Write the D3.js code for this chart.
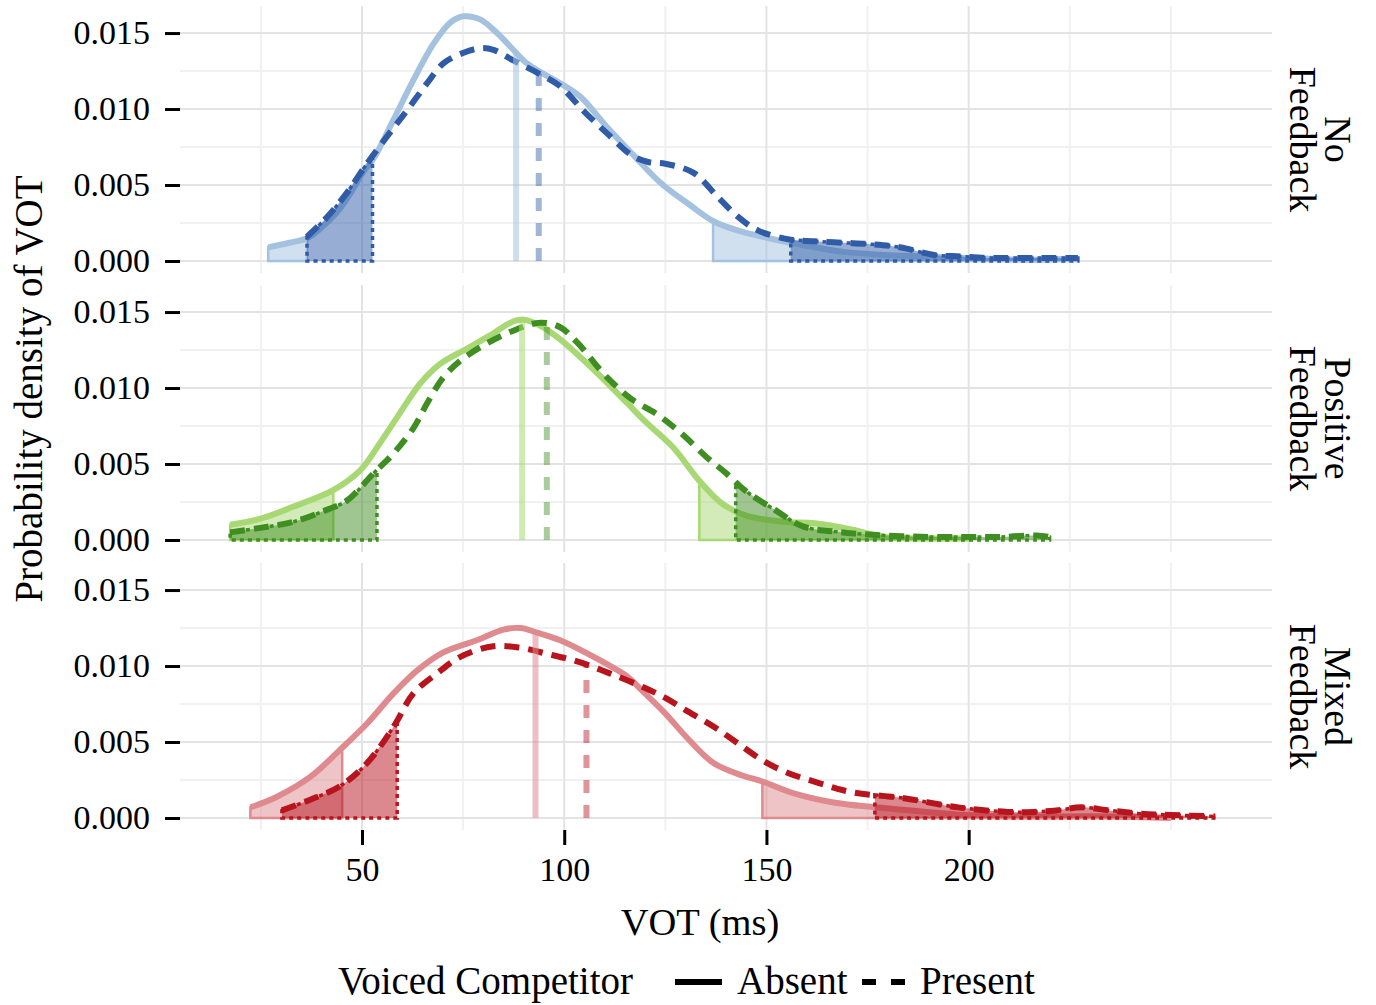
<!DOCTYPE html>
<html>
<head>
<meta charset="utf-8">
<script src="https://cdn.jsdelivr.net/npm/d3@7"></script>
<style>
  body { margin: 0; background: #fff; }
  text { font-family: "Liberation Serif", "Times New Roman", serif; fill: #000; }
</style>
</head>
<body>
<div id="container"></div>
<script>
// panels (facets)
const panels = ["No Feedback", "Positive Feedback", "Mixed Feedback"];
const stripLines = [["No", "Feedback"], ["Positive", "Feedback"], ["Mixed", "Feedback"]];
const absentColors = ["#a4c2e0", "#a8d873", "#df8a8f"];
const presentColors = ["#2f5ba7", "#3f8e22", "#b8141d"];

// density curves (VOT in ms, density)
const noAbsentVot = [26.8, 32, 36.4, 40, 43.8, 47, 50.4, 53, 57.8, 62.7, 67.7, 71.9, 75.1, 79.2, 83.4, 87.4, 90.8, 95, 99, 104, 110.6, 117, 124, 131, 137, 143, 149, 156, 162, 169, 179, 189.5, 200, 210, 220, 227];
const noAbsentDens = [0.0009, 0.0012, 0.0015, 0.0022, 0.0032, 0.0044, 0.0059, 0.0068, 0.0093, 0.0119, 0.0143, 0.0157, 0.0161, 0.0159, 0.0150, 0.0139, 0.0130, 0.0123, 0.0117, 0.0108, 0.0088, 0.0070, 0.0051, 0.0037, 0.0026, 0.0020, 0.0016, 0.0012, 0.0009, 0.0006, 0.0004, 0.0003, 0.0002, 0.0001, 0.0001, 0.0002];
const noPresentVot = [36.4, 41.4, 46.3, 51.2, 56.2, 61.1, 66.1, 70.1, 75.1, 79.2, 82.5, 87.4, 93.3, 99, 104.7, 110.6, 117, 121, 125, 132, 138, 143, 148, 156, 162, 169, 176, 183, 191.5, 198, 205, 212, 220, 227];
const noPresentDens = [0.0016, 0.0029, 0.0045, 0.0064, 0.0082, 0.0099, 0.0117, 0.0130, 0.0137, 0.0140, 0.0139, 0.0132, 0.0124, 0.0115, 0.0099, 0.0084, 0.0069, 0.0065, 0.0064, 0.0058, 0.0042, 0.0029, 0.0020, 0.0014, 0.0013, 0.0012, 0.0011, 0.0009, 0.0004, 0.0003, 0.0002, 0.0002, 0.0002, 0.0002];

const posAbsentVot = [17.4, 24.9, 33.1, 43, 49.6, 54.5, 59.5, 64.4, 69.4, 76, 82.5, 86.7, 90, 94.1, 99, 107.3, 115.6, 120, 126.9, 133.4, 139, 145, 154, 162, 171, 179, 190, 200];
const posAbsentDens = [0.0010, 0.0014, 0.0022, 0.0033, 0.0046, 0.0064, 0.0084, 0.0103, 0.0116, 0.0126, 0.0136, 0.0143, 0.0145, 0.0141, 0.0132, 0.0112, 0.0090, 0.0078, 0.0061, 0.0039, 0.0024, 0.0016, 0.0012, 0.0011, 0.0007, 0.0002, 0.0001, 0.0001];
const posPresentVot = [17.4, 24.9, 33.1, 41.4, 46.3, 52.9, 57.8, 62.8, 66.1, 70.1, 74.3, 80, 86.7, 94.1, 99, 103.2, 110.6, 117, 122.8, 129, 135, 140, 145, 152, 159, 169, 179.4, 190, 199.5, 208, 216.8, 220];
const posPresentDens = [0.0005, 0.0008, 0.0012, 0.0020, 0.0026, 0.0044, 0.0057, 0.0074, 0.0090, 0.0107, 0.0118, 0.0128, 0.0137, 0.0143, 0.0140, 0.0130, 0.0107, 0.0092, 0.0083, 0.0070, 0.0055, 0.0044, 0.0032, 0.0020, 0.0009, 0.0005, 0.0003, 0.0002, 0.0002, 0.0002, 0.0003, 0.0002];

const mixAbsentVot = [22.4, 29, 37.2, 44.6, 51.2, 57.8, 63.6, 70.1, 78.4, 85, 89.2, 93.3, 99, 107.3, 115.6, 118.8, 124.9, 131, 137, 144, 149, 157, 167, 177, 189.5, 199.5, 210, 220, 235, 250];
const mixAbsentDens = [0.0007, 0.0014, 0.0027, 0.0045, 0.0062, 0.0082, 0.0097, 0.0109, 0.0117, 0.0124, 0.0125, 0.0122, 0.0117, 0.0106, 0.0093, 0.0085, 0.0069, 0.0051, 0.0036, 0.0028, 0.0024, 0.0016, 0.0010, 0.0007, 0.0004, 0.0002, 0.0001, 0.0001, 0.0001, 0.0000];
const mixPresentVot = [30.2, 37.2, 44.6, 51.2, 57.8, 62.7, 68.5, 74.3, 82.5, 89.2, 95.8, 103.2, 111.4, 119.6, 125, 130, 137, 143, 149, 155, 163, 171, 184, 197.4, 209.6, 216, 221.7, 227.9, 234.7, 241.9, 250, 261];
const mixPresentDens = [0.0005, 0.0012, 0.0021, 0.0036, 0.0060, 0.0082, 0.0095, 0.0106, 0.0113, 0.0112, 0.0108, 0.0103, 0.0095, 0.0086, 0.0079, 0.0071, 0.0060, 0.0049, 0.0038, 0.0030, 0.0023, 0.0017, 0.0013, 0.0007, 0.0004, 0.0004, 0.0005, 0.0007, 0.0005, 0.0003, 0.0002, 0.0001];

// tail cut points and median lines, per panel
const absentLower = [36.4, 42.9, 45.1];
const absentUpper = [136.8, 133.4, 149];
const presentLower = [52.6, 53.7, 58.7];
const presentUpper = [156, 142.4, 176.8];
const absentMedian = [88.1, 89.6, 92.9];
const presentMedian = [93.7, 95.7, 105.5];

const xTicks = [50, 100, 150, 200];
const xMinor = [25, 75, 125, 175, 225, 250];
const yTicks = [0, 0.005, 0.010, 0.015];
const yMinor = [0.0025, 0.0075, 0.0125];

const curves = [
  [[noAbsentVot, noAbsentDens], [noPresentVot, noPresentDens]],
  [[posAbsentVot, posAbsentDens], [posPresentVot, posPresentDens]],
  [[mixAbsentVot, mixAbsentDens], [mixPresentVot, mixPresentDens]]
];

const WIDTH = 1376;
const HEIGHT = 1005;
const panelTop = [6, 285, 563];
const panelH = 267;
const left = 180, right = 1272;
const serif = "'Liberation Serif', 'Times New Roman', serif";

const svg = d3.select("#container").append("svg")
  .attr("width", WIDTH)
  .attr("height", HEIGHT);

const x = d3.scaleLinear().domain([5, 275]).range([left, right]);

function toPoints(vot, dens) {
  return vot.map((v, i) => [v, dens[i]]);
}

// density value at v, between two read points
function densAt(pts, v) {
  for (let i = 1; i < pts.length; i++) {
    if (pts[i][0] >= v) {
      const a = pts[i - 1], b = pts[i];
      const t = (v - a[0]) / (b[0] - a[0]);
      return a[1] + t * (b[1] - a[1]);
    }
  }
  return pts[pts.length - 1][1];
}

function tail(pts, from, to) {
  const out = [];
  out.push([from, densAt(pts, from)]);
  pts.forEach(p => { if (p[0] > from && p[0] < to) out.push(p); });
  out.push([to, densAt(pts, to)]);
  return out;
}

panels.forEach((name, pi) => {
  const top = panelTop[pi];
  const y = d3.scaleLinear().domain([-0.00079, 0.01678]).range([top + panelH, top]);
  const g = svg.append("g");

  // grid
  g.selectAll(".hminor").data(yMinor).enter().append("line")
    .attr("x1", left).attr("x2", right)
    .attr("y1", d => y(d)).attr("y2", d => y(d))
    .attr("stroke", "#f1f1f1").attr("stroke-width", 2);
  g.selectAll(".vminor").data(xMinor).enter().append("line")
    .attr("x1", d => x(d)).attr("x2", d => x(d))
    .attr("y1", top).attr("y2", top + panelH)
    .attr("stroke", "#f1f1f1").attr("stroke-width", 2);
  g.selectAll(".hmajor").data(yTicks).enter().append("line")
    .attr("x1", left).attr("x2", right)
    .attr("y1", d => y(d)).attr("y2", d => y(d))
    .attr("stroke", "#e3e3e3").attr("stroke-width", 2);
  g.selectAll(".vmajor").data(xTicks).enter().append("line")
    .attr("x1", d => x(d)).attr("x2", d => x(d))
    .attr("y1", top).attr("y2", top + panelH)
    .attr("stroke", "#e3e3e3").attr("stroke-width", 2);

  const line = d3.line().x(d => x(d[0])).y(d => y(d[1])).curve(d3.curveCatmullRom);
  const area = d3.area().x(d => x(d[0])).y0(y(0)).y1(d => y(d[1])).curve(d3.curveCatmullRom);

  const absPts = toPoints(curves[pi][0][0], curves[pi][0][1]);
  const presPts = toPoints(curves[pi][1][0], curves[pi][1][1]);

  // absent curve
  g.append("path").attr("d", line(absPts))
    .attr("fill", "none").attr("stroke", absentColors[pi]).attr("stroke-width", 6);

  // absent tails
  const absTails = [tail(absPts, absPts[0][0], absentLower[pi]),
                    tail(absPts, absentUpper[pi], absPts[absPts.length - 1][0])];
  absTails.forEach(t => {
    g.append("path").attr("d", area(t) + "Z")
      .attr("fill", absentColors[pi]).attr("fill-opacity", 0.5)
      .attr("stroke", absentColors[pi]).attr("stroke-width", 2.5);
  });

  // present tails
  const presTails = [tail(presPts, presPts[0][0], presentLower[pi]),
                     tail(presPts, presentUpper[pi], presPts[presPts.length - 1][0])];
  presTails.forEach(t => {
    g.append("path").attr("d", area(t) + "Z")
      .attr("fill", presentColors[pi]).attr("fill-opacity", 0.5)
      .attr("stroke", presentColors[pi]).attr("stroke-width", 3.5)
      .attr("stroke-dasharray", "4,4");
  });

  // present curve
  g.append("path").attr("d", line(presPts))
    .attr("fill", "none").attr("stroke", presentColors[pi]).attr("stroke-width", 6)
    .attr("stroke-dasharray", "15,9");

  // medians
  g.append("line")
    .attr("x1", x(absentMedian[pi])).attr("x2", x(absentMedian[pi]))
    .attr("y1", y(0)).attr("y2", y(densAt(absPts, absentMedian[pi])))
    .attr("stroke", absentColors[pi]).attr("stroke-opacity", 0.55).attr("stroke-width", 6);
  g.append("line")
    .attr("x1", x(presentMedian[pi])).attr("x2", x(presentMedian[pi]))
    .attr("y1", y(0)).attr("y2", y(densAt(presPts, presentMedian[pi])))
    .attr("stroke", presentColors[pi]).attr("stroke-opacity", 0.45).attr("stroke-width", 6)
    .attr("stroke-dasharray", "13,12");

  // y axis
  const yAxis = g.append("g").attr("transform", `translate(${left},0)`)
    .call(d3.axisLeft(y).tickValues(yTicks).tickFormat(d3.format(".3f")).tickSize(15).tickPadding(15));
  yAxis.select(".domain").remove();
  yAxis.selectAll(".tick line").attr("stroke", "#000").attr("stroke-width", 3);
  yAxis.selectAll("text").style("font-size", "34px").style("font-family", serif).attr("fill", "#000");

  if (pi === panels.length - 1) {
    const xAxis = g.append("g").attr("transform", `translate(0,${top + panelH})`)
      .call(d3.axisBottom(x).tickValues(xTicks).tickSize(15).tickPadding(12));
    xAxis.select(".domain").remove();
    xAxis.selectAll(".tick line").attr("stroke", "#000").attr("stroke-width", 3);
    xAxis.selectAll("text").style("font-size", "34px").style("font-family", serif).attr("fill", "#000");
  }

  // strip label on the right
  const strip = svg.append("g")
    .attr("transform", `translate(1307,${top + panelH / 2}) rotate(90)`);
  strip.append("text").attr("text-anchor", "middle").attr("y", -18)
    .style("font-size", "38px").text(stripLines[pi][0]);
  strip.append("text").attr("text-anchor", "middle").attr("y", 17)
    .style("font-size", "38px").text(stripLines[pi][1]);
});

// axis titles
svg.append("text")
  .attr("transform", "translate(42,389) rotate(-90)")
  .attr("text-anchor", "middle")
  .style("font-size", "39px")
  .text("Probability density of VOT");

svg.append("text")
  .attr("x", 700).attr("y", 935)
  .attr("text-anchor", "middle")
  .style("font-size", "38.5px")
  .text("VOT (ms)");

// legend
const legend = svg.append("g");
legend.append("text").attr("x", 338).attr("y", 994).style("font-size", "39px").text("Voiced Competitor");
legend.append("line").attr("x1", 675).attr("x2", 722).attr("y1", 982).attr("y2", 982)
  .attr("stroke", "#000").attr("stroke-width", 6);
legend.append("text").attr("x", 737).attr("y", 994).style("font-size", "39px").text("Absent");
legend.append("line").attr("x1", 862).attr("x2", 905).attr("y1", 982).attr("y2", 982)
  .attr("stroke", "#000").attr("stroke-width", 6).attr("stroke-dasharray", "14,15");
legend.append("text").attr("x", 920).attr("y", 994).style("font-size", "39px").text("Present");
</script>
</body>
</html>
